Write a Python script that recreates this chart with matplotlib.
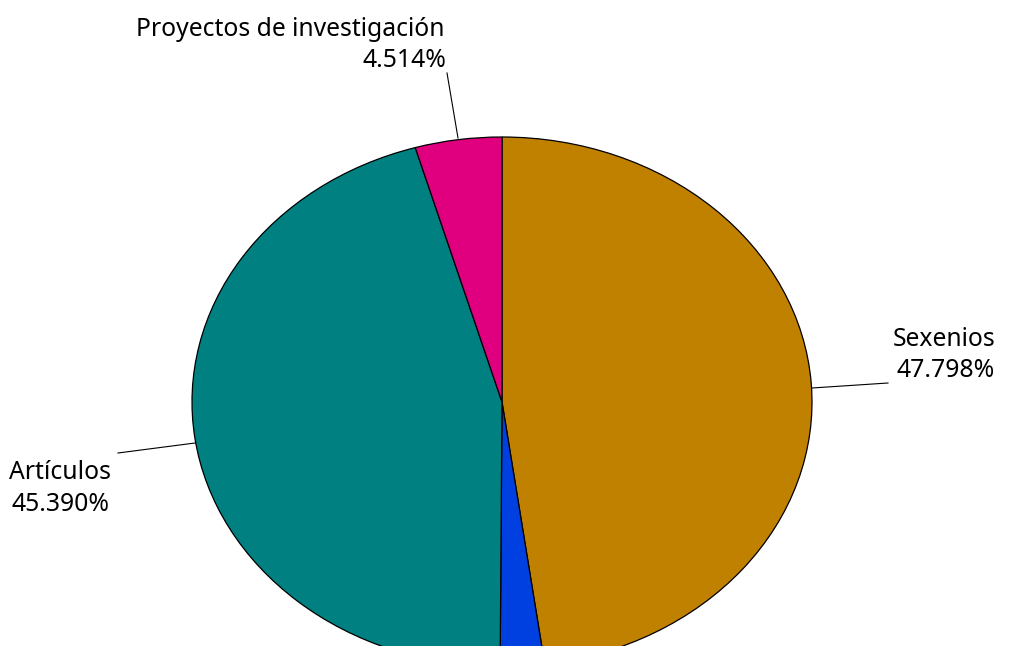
import matplotlib.pyplot as plt
from matplotlib.lines import Line2D

W, H = 1009, 646

# slices clockwise from 12 o'clock
labels = ["Sexenios", "", "Artículos", "Proyectos de investigación"]
values = [47.798, 2.298, 45.390, 4.514]
colors = ["#C08000", "#0040E0", "#008080", "#E0007F"]

fig = plt.figure(figsize=(W / 100, H / 100), dpi=100)
ax = fig.add_axes([0, 0, 1, 1])

ax.pie(values, colors=colors, startangle=90, counterclock=False,
       wedgeprops=dict(edgecolor="black", linewidth=0.9))

# pie is drawn squashed: centre (502,402) px, rx 310, ry 265
cx, cy, rx, ry = 502, 402, 310, 265
ax.set_aspect("auto")
ax.set_xlim(-cx / rx, (W - cx) / rx)
ax.set_ylim(-(H - cy) / ry, cy / ry)
ax.axis("off")

def px(x, y):
    return x / W, 1 - y / H

font = dict(family=["Noto Sans", "DejaVu Sans"], fontsize=17.8, color="black")

# label text lines: (text, right edge x, baseline y)
txt = [
    (labels[3], 445, 36),
    ("%.3f%%" % values[3], 446, 67),
    (labels[0], 995, 346),
    ("%.3f%%" % values[0], 995, 377),
    (labels[2], 111, 479),
    ("%.3f%%" % values[2], 110, 511),
]
for s, x, y in txt:
    fig.text(*px(x, y), s, ha="right", va="baseline", **font)

leaders = [((447, 73), (458, 138)),
           ((888, 383), (812, 388)),
           ((118, 453), (195, 443))]
for (x0, y0), (x1, y1) in leaders:
    a, b = px(x0, y0), px(x1, y1)
    fig.add_artist(Line2D([a[0], b[0]], [a[1], b[1]], color="black", lw=0.8))

fig.savefig("out.png", dpi=100)
